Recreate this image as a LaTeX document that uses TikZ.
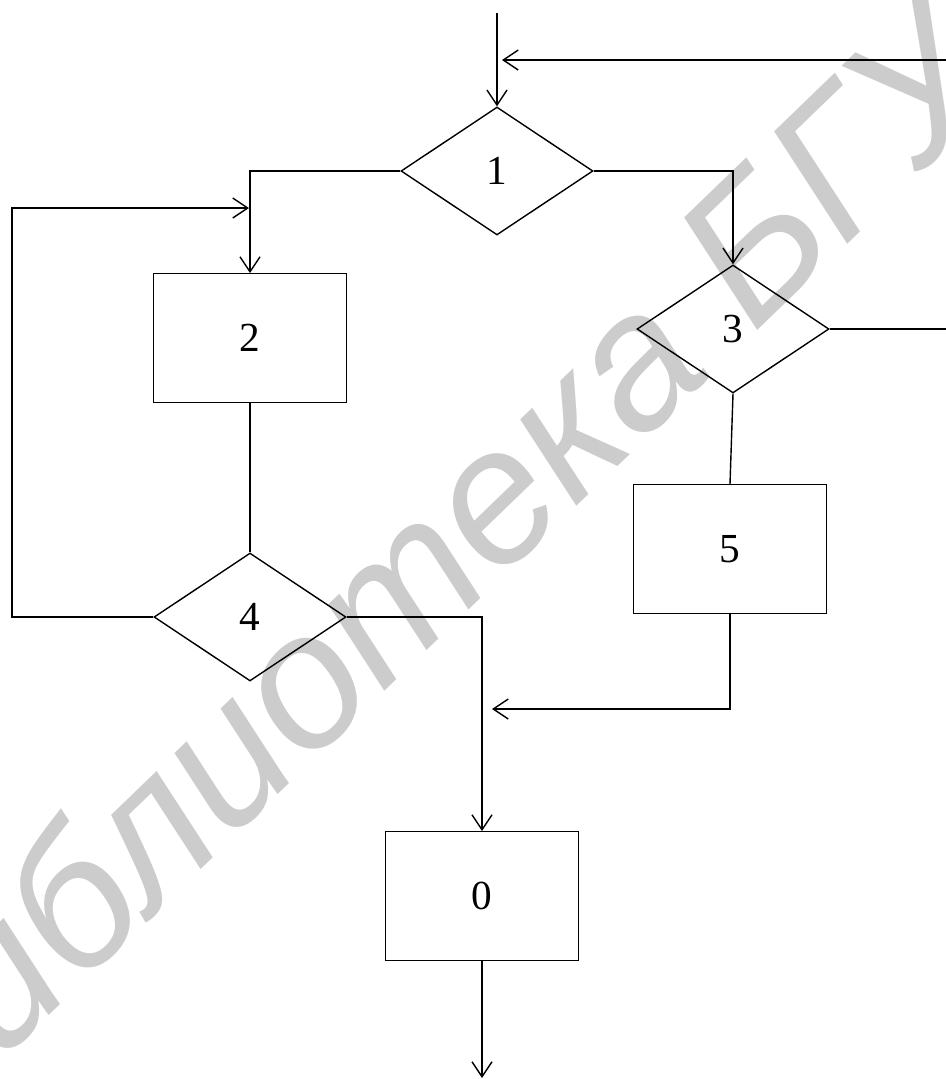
\documentclass[tikz,border=0pt]{standalone}
\usepackage{fontspec}
\setmainfont{Liberation Serif}
\newfontfamily\markfont{Liberation Sans}
\usetikzlibrary{shapes.geometric,arrows.meta}

\begin{document}
\begin{tikzpicture}[x=0.02cm, y=-0.02cm, line width=0.8pt,
                >={Straight Barb[length=3mm,width=4mm]},
                cond/.style={draw, diamond, inner sep=0pt, minimum width=3.84cm, minimum height=2.56cm, font=\fontsize{23.5}{28}\selectfont},
                blok/.style={draw, rectangle, inner sep=0pt, minimum width=3.86cm, minimum height=2.57cm, font=\fontsize{23.5}{28}\selectfont}]
                \useasboundingbox (0,0) rectangle (946,1079);
                \clip (0,0) rectangle (946,1079);

                \node[rotate=44, text=black!20, font=\markfont\itshape\fontsize{109}{109}\selectfont] (mark) at (506,478) {Библиотека БГУИР};

                \node[cond] (d1) at (497,171) {1};
                \node[blok] (b2) at (250,338) {2};
                \node[cond] (d3) at (733,329) {3};
                \node[cond] (d4) at (250,617) {4};
                \node[blok] (b5) at (730,549) {5};
                \node[blok] (b0) at (482,896) {0};

                \coordinate (top) at (497,13);
                \coordinate (fb) at (946,60);
                \coordinate (fbin) at (502,60);
                \coordinate (lp) at (12,208);
                \coordinate (lpin) at (249,208);
                \coordinate (rexit) at (946,329);
                \coordinate (mrg) at (492,709);
                \coordinate (out) at (482,1078);

                \draw[->] (top) -- (d1.north);
                \draw[->] (fb) -- (fbin);
                \draw[->] (d1.west) -| (b2.north);
                \draw[->] (d1.east) -| (d3.north);
                \draw (b2.south) -- (d4.north);
                \draw (d3.south) -- (b5.north);
                \draw (d3.east) -- (rexit);
                \draw[->] (d4.west) -| (lp) -- (lpin);
                \draw[->] (d4.east) -| (b0.north);
                \draw[->] (b5.south) |- (mrg);
                \draw[->] (b0.south) -- (out);
            \end{tikzpicture}
\end{document}
